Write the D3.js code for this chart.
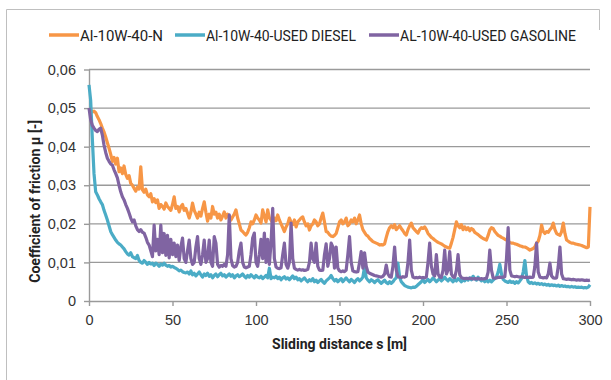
<!DOCTYPE html>
<html>
<head>
<meta charset="utf-8">
<script src="https://cdnjs.cloudflare.com/ajax/libs/d3/7.8.5/d3.min.js"></script>
<style>
  html, body { margin: 0; padding: 0; background: #fff; }
  svg { display: block; }
</style>
</head>
<body>
<div id="chart"></div>
<script>
// Sliding distance s [m], one reading per metre
const distance = d3.range(0, 301);

const seriesNames = ["Al-10W-40-N", "Al-10W-40-USED DIESEL", "AL-10W-40-USED GASOLINE"];

const frictionN = [
  0.0500, 0.0495, 0.0490, 0.0492, 0.0488, 0.0478, 0.0470, 0.0460, 0.0448, 0.0438,
  0.0425, 0.0410, 0.0396, 0.0380, 0.0362, 0.0372, 0.0355, 0.0370, 0.0335, 0.0345,
  0.0330, 0.0350, 0.0328, 0.0318, 0.0325, 0.0305, 0.0300, 0.0292, 0.0285, 0.0295,
  0.0290, 0.0348, 0.0288, 0.0282, 0.0290, 0.0275, 0.0270, 0.0278, 0.0257, 0.0265,
  0.0255, 0.0262, 0.0240, 0.0250, 0.0245, 0.0238, 0.0254, 0.0245, 0.0240, 0.0235,
  0.0250, 0.0270, 0.0240, 0.0245, 0.0231, 0.0245, 0.0250, 0.0235, 0.0240, 0.0228,
  0.0215, 0.0230, 0.0254, 0.0235, 0.0225, 0.0215, 0.0230, 0.0220, 0.0240, 0.0257,
  0.0230, 0.0207, 0.0225, 0.0215, 0.0245, 0.0225, 0.0230, 0.0215, 0.0225, 0.0210,
  0.0220, 0.0231, 0.0215, 0.0225, 0.0220, 0.0210, 0.0218, 0.0225, 0.0236, 0.0215,
  0.0200, 0.0184, 0.0180, 0.0175, 0.0171, 0.0178, 0.0190, 0.0205, 0.0200, 0.0210,
  0.0223, 0.0215, 0.0210, 0.0202, 0.0236, 0.0220, 0.0205, 0.0236, 0.0215, 0.0210,
  0.0202, 0.0215, 0.0208, 0.0223, 0.0210, 0.0200, 0.0190, 0.0180, 0.0192, 0.0200,
  0.0215, 0.0205, 0.0198, 0.0210, 0.0192, 0.0205, 0.0210, 0.0215, 0.0218, 0.0205,
  0.0195, 0.0200, 0.0184, 0.0195, 0.0200, 0.0210, 0.0205, 0.0195, 0.0200, 0.0215,
  0.0228, 0.0205, 0.0180, 0.0178, 0.0172, 0.0168, 0.0167, 0.0170, 0.0175, 0.0190,
  0.0205, 0.0210, 0.0200, 0.0205, 0.0215, 0.0195, 0.0200, 0.0210, 0.0205, 0.0215,
  0.0200, 0.0210, 0.0223, 0.0200, 0.0185, 0.0178, 0.0171, 0.0168, 0.0162, 0.0158,
  0.0154, 0.0152, 0.0150, 0.0148, 0.0145, 0.0146, 0.0145, 0.0148, 0.0165, 0.0180,
  0.0190, 0.0195, 0.0190, 0.0198, 0.0185, 0.0190, 0.0195, 0.0188, 0.0182, 0.0175,
  0.0171, 0.0185, 0.0195, 0.0202, 0.0190, 0.0185, 0.0180, 0.0176, 0.0185, 0.0190,
  0.0188, 0.0192, 0.0185, 0.0175, 0.0170, 0.0165, 0.0162, 0.0158, 0.0155, 0.0152,
  0.0150, 0.0148, 0.0145, 0.0142, 0.0140, 0.0138, 0.0137, 0.0150, 0.0165, 0.0185,
  0.0205, 0.0195, 0.0190, 0.0198, 0.0185, 0.0192, 0.0185, 0.0190, 0.0182, 0.0188,
  0.0185, 0.0178, 0.0175, 0.0172, 0.0168, 0.0165, 0.0162, 0.0160, 0.0158, 0.0170,
  0.0184, 0.0190, 0.0188, 0.0180, 0.0175, 0.0170, 0.0168, 0.0165, 0.0163, 0.0160,
  0.0158, 0.0155, 0.0152, 0.0150, 0.0150, 0.0148, 0.0147, 0.0145, 0.0143, 0.0142,
  0.0140, 0.0140, 0.0138, 0.0135, 0.0132, 0.0134, 0.0136, 0.0140, 0.0150, 0.0155,
  0.0170, 0.0197, 0.0180, 0.0175, 0.0180, 0.0178, 0.0185, 0.0190, 0.0202, 0.0185,
  0.0175, 0.0172, 0.0170, 0.0180, 0.0202, 0.0175, 0.0158, 0.0155, 0.0152, 0.0150,
  0.0150, 0.0148, 0.0147, 0.0146, 0.0145, 0.0144, 0.0142, 0.0140, 0.0138, 0.0140,
  0.0244
];

const frictionDiesel = [
  0.0560, 0.0520, 0.0420, 0.0330, 0.0283, 0.0275, 0.0265, 0.0257, 0.0250, 0.0235,
  0.0223, 0.0210, 0.0195, 0.0180, 0.0172, 0.0165, 0.0158, 0.0152, 0.0148, 0.0145,
  0.0140, 0.0135, 0.0128, 0.0122, 0.0119, 0.0125, 0.0115, 0.0112, 0.0110, 0.0118,
  0.0105, 0.0100, 0.0098, 0.0105, 0.0100, 0.0095, 0.0100, 0.0096, 0.0098, 0.0092,
  0.0098, 0.0095, 0.0090, 0.0096, 0.0093, 0.0098, 0.0093, 0.0090, 0.0092, 0.0088,
  0.0090, 0.0087, 0.0085, 0.0082, 0.0078, 0.0080, 0.0076, 0.0074, 0.0073, 0.0075,
  0.0070, 0.0078, 0.0068, 0.0072, 0.0065, 0.0070, 0.0075, 0.0068, 0.0062, 0.0070,
  0.0066, 0.0072, 0.0064, 0.0068, 0.0060, 0.0066, 0.0070, 0.0063, 0.0068, 0.0072,
  0.0065, 0.0068, 0.0062, 0.0066, 0.0070, 0.0064, 0.0068, 0.0060, 0.0065, 0.0068,
  0.0063, 0.0066, 0.0070, 0.0064, 0.0060, 0.0066, 0.0062, 0.0068, 0.0064, 0.0060,
  0.0066, 0.0062, 0.0060, 0.0064, 0.0058, 0.0062, 0.0066, 0.0060, 0.0085, 0.0058,
  0.0062, 0.0060, 0.0064, 0.0058, 0.0062, 0.0055, 0.0060, 0.0063, 0.0057, 0.0060,
  0.0055, 0.0060, 0.0065, 0.0058, 0.0062, 0.0055, 0.0058, 0.0052, 0.0056, 0.0060,
  0.0054, 0.0050, 0.0055, 0.0052, 0.0058, 0.0050, 0.0054, 0.0048, 0.0052, 0.0056,
  0.0050, 0.0046, 0.0052, 0.0056, 0.0060, 0.0066, 0.0058, 0.0052, 0.0056, 0.0050,
  0.0054, 0.0058, 0.0050, 0.0055, 0.0060, 0.0054, 0.0050, 0.0056, 0.0052, 0.0048,
  0.0054, 0.0058, 0.0052, 0.0056, 0.0062, 0.0088, 0.0060, 0.0054, 0.0050, 0.0055,
  0.0052, 0.0048, 0.0052, 0.0055, 0.0050, 0.0046, 0.0050, 0.0054, 0.0048, 0.0045,
  0.0050, 0.0046, 0.0050, 0.0056, 0.0060, 0.0098, 0.0062, 0.0050, 0.0045, 0.0040,
  0.0038, 0.0036, 0.0035, 0.0034, 0.0036, 0.0035, 0.0038, 0.0042, 0.0046, 0.0050,
  0.0055, 0.0048, 0.0052, 0.0056, 0.0050, 0.0054, 0.0060, 0.0055, 0.0050, 0.0054,
  0.0058, 0.0052, 0.0056, 0.0062, 0.0056, 0.0052, 0.0058, 0.0054, 0.0050, 0.0056,
  0.0052, 0.0058, 0.0054, 0.0050, 0.0055, 0.0052, 0.0058, 0.0054, 0.0060, 0.0055,
  0.0064, 0.0058, 0.0054, 0.0062, 0.0056, 0.0052, 0.0056, 0.0050, 0.0054, 0.0050,
  0.0054, 0.0050, 0.0054, 0.0058, 0.0062, 0.0075, 0.0095, 0.0070, 0.0056, 0.0052,
  0.0050, 0.0048, 0.0052, 0.0048, 0.0050, 0.0046, 0.0050, 0.0047, 0.0052, 0.0058,
  0.0075, 0.0105, 0.0065, 0.0050, 0.0046, 0.0048, 0.0045, 0.0047, 0.0044, 0.0046,
  0.0043, 0.0045, 0.0042, 0.0044, 0.0041, 0.0043, 0.0040, 0.0042, 0.0040, 0.0041,
  0.0039, 0.0041, 0.0038, 0.0040, 0.0038, 0.0039, 0.0037, 0.0038, 0.0036, 0.0038,
  0.0036, 0.0037, 0.0035, 0.0036, 0.0035, 0.0036, 0.0034, 0.0035, 0.0034, 0.0036,
  0.0042
];

const frictionGasoline = [
  0.0500, 0.0470, 0.0455, 0.0448, 0.0442, 0.0439, 0.0445, 0.0448, 0.0430, 0.0404,
  0.0385, 0.0370, 0.0362, 0.0355, 0.0352, 0.0340, 0.0330, 0.0319, 0.0300, 0.0283,
  0.0270, 0.0262, 0.0250, 0.0240, 0.0228, 0.0215, 0.0205, 0.0210, 0.0195, 0.0185,
  0.0180, 0.0185, 0.0178, 0.0176, 0.0165, 0.0152, 0.0145, 0.0130, 0.0115, 0.0197,
  0.0130, 0.0160, 0.0120, 0.0197, 0.0125, 0.0175, 0.0118, 0.0170, 0.0112, 0.0160,
  0.0120, 0.0150, 0.0115, 0.0145, 0.0105, 0.0140, 0.0163, 0.0110, 0.0100, 0.0130,
  0.0158, 0.0110, 0.0095, 0.0100, 0.0140, 0.0167, 0.0110, 0.0095, 0.0120, 0.0158,
  0.0100, 0.0110, 0.0158, 0.0100, 0.0090, 0.0167, 0.0150, 0.0095, 0.0088, 0.0092,
  0.0090, 0.0095, 0.0090, 0.0120, 0.0223, 0.0110, 0.0092, 0.0088, 0.0090, 0.0100,
  0.0130, 0.0150, 0.0100, 0.0088, 0.0086, 0.0088, 0.0090, 0.0120, 0.0163, 0.0176,
  0.0100, 0.0090, 0.0120, 0.0160, 0.0110, 0.0176, 0.0100, 0.0160, 0.0095, 0.0150,
  0.0240, 0.0110, 0.0088, 0.0085, 0.0084, 0.0086, 0.0120, 0.0150, 0.0095, 0.0085,
  0.0100, 0.0202, 0.0110, 0.0085, 0.0082, 0.0080, 0.0082, 0.0080, 0.0081, 0.0079,
  0.0080, 0.0082, 0.0100, 0.0150, 0.0110, 0.0100, 0.0150, 0.0090, 0.0080, 0.0079,
  0.0080, 0.0120, 0.0148, 0.0090, 0.0110, 0.0150, 0.0140, 0.0085, 0.0140, 0.0085,
  0.0078, 0.0076, 0.0078, 0.0076, 0.0080, 0.0120, 0.0167, 0.0100, 0.0078, 0.0076,
  0.0075, 0.0076, 0.0100, 0.0128, 0.0085, 0.0125, 0.0090, 0.0075, 0.0072, 0.0070,
  0.0068, 0.0066, 0.0065, 0.0064, 0.0063, 0.0062, 0.0064, 0.0070, 0.0093, 0.0070,
  0.0063, 0.0062, 0.0090, 0.0140, 0.0080, 0.0063, 0.0062, 0.0061, 0.0063, 0.0062,
  0.0064, 0.0100, 0.0158, 0.0080, 0.0062, 0.0060, 0.0061, 0.0060, 0.0062, 0.0060,
  0.0061, 0.0060, 0.0062, 0.0100, 0.0150, 0.0090, 0.0070, 0.0065, 0.0120, 0.0070,
  0.0062, 0.0061, 0.0080, 0.0132, 0.0070, 0.0080, 0.0128, 0.0070, 0.0062, 0.0061,
  0.0080, 0.0120, 0.0068, 0.0060, 0.0059, 0.0058, 0.0059, 0.0058, 0.0059, 0.0058,
  0.0057, 0.0058, 0.0057, 0.0058, 0.0057, 0.0058, 0.0057, 0.0058, 0.0059, 0.0075,
  0.0132, 0.0080, 0.0060, 0.0059, 0.0060, 0.0061, 0.0062, 0.0061, 0.0062, 0.0063,
  0.0110, 0.0190, 0.0080, 0.0065, 0.0064, 0.0063, 0.0064, 0.0063, 0.0062, 0.0063,
  0.0062, 0.0061, 0.0062, 0.0061, 0.0062, 0.0061, 0.0062, 0.0090, 0.0150, 0.0075,
  0.0062, 0.0061, 0.0060, 0.0061, 0.0060, 0.0070, 0.0098, 0.0065, 0.0060, 0.0059,
  0.0060, 0.0090, 0.0140, 0.0070, 0.0058, 0.0057, 0.0056, 0.0057, 0.0056, 0.0055,
  0.0056, 0.0055, 0.0054, 0.0055, 0.0054, 0.0055, 0.0054, 0.0053, 0.0054, 0.0053,
  0.0054
];

const xTicks = [0, 50, 100, 150, 200, 250, 300];
const yTicks = [0, 0.01, 0.02, 0.03, 0.04, 0.05, 0.06];
const yTickLabels = ["0", "0,01", "0,02", "0,03", "0,04", "0,05", "0,06"];

const colors = ["#f79646", "#4bacc6", "#8064a2"];
const allSeries = [frictionN, frictionDiesel, frictionGasoline];

const width = 611, height = 380;
const margin = { left: 89, right: 21, top: 69.5, bottom: 79 };
const labelFont = "Roboto, 'Noto Sans', sans-serif";
const wide = "'Liberation Sans', Arial, sans-serif";

const svg = d3.select("#chart").append("svg")
    .attr("width", width)
    .attr("height", height);

// chart frame (left and top edges visible in the source)
svg.append("path")
    .attr("d", "M6.5,380 V9.5 H599.5 V30")
    .attr("fill", "none")
    .attr("stroke", "#bfbfbf")
    .attr("stroke-width", 1);

const x = d3.scaleLinear().domain([0, 300]).range([margin.left, width - margin.right]);
const y = d3.scaleLinear().domain([0, 0.06]).range([height - margin.bottom, margin.top]);

// horizontal grid lines
svg.append("g")
    .selectAll("line")
    .data(yTicks.slice(1))
    .join("line")
    .attr("x1", x(0))
    .attr("x2", x(300))
    .attr("y1", d => y(d))
    .attr("y2", d => y(d))
    .attr("stroke", "#9a9a9a")
    .attr("stroke-width", 1.4);

// Y axis
const yAxis = d3.axisLeft(y)
    .tickValues(yTicks)
    .tickFormat((d, i) => yTickLabels[i])
    .tickSize(5)
    .tickPadding(8)
    .tickSizeOuter(0);

const gy = svg.append("g")
    .attr("transform", `translate(${x(0)},0)`)
    .call(yAxis);
gy.select(".domain").attr("stroke", "#9a9a9a").attr("stroke-width", 1.4);
gy.selectAll(".tick line").attr("stroke", "#9a9a9a").attr("stroke-width", 1.4);
gy.selectAll(".tick text")
    .attr("fill", "#333")
    .style("font-family", wide)
    .style("font-size", "14.5px");

// X axis
const xAxis = d3.axisBottom(x)
    .tickValues(xTicks)
    .tickSize(5)
    .tickPadding(9)
    .tickSizeOuter(0);

const gx = svg.append("g")
    .attr("transform", `translate(0,${y(0)})`)
    .call(xAxis);
gx.select(".domain").attr("stroke", "#9a9a9a").attr("stroke-width", 1.4);
gx.selectAll(".tick line").attr("stroke", "#9a9a9a").attr("stroke-width", 1.4);
gx.selectAll(".tick text")
    .attr("fill", "#333")
    .style("font-family", wide)
    .style("font-size", "14.5px");

// series lines
const line = d3.line()
    .x((d, i) => x(distance[i]))
    .y(d => y(d));

svg.append("g")
    .selectAll("path")
    .data(allSeries)
    .join("path")
    .attr("d", line)
    .attr("fill", "none")
    .attr("stroke", (d, i) => colors[i])
    .attr("stroke-width", 3.2)
    .attr("stroke-linejoin", "round");

// axis titles (squeezed to the narrow face of the source)
svg.append("text")
    .attr("x", x(150))
    .attr("y", 349)
    .attr("text-anchor", "middle")
    .attr("fill", "#222")
    .attr("textLength", 135)
    .attr("lengthAdjust", "spacingAndGlyphs")
    .style("font-family", labelFont)
    .style("font-weight", "bold")
    .style("font-size", "15px")
    .text("Sliding distance s [m]");

svg.append("text")
    .attr("transform", `translate(40,${(y(0) + y(0.06)) / 2 + 16}) rotate(-90)`)
    .attr("text-anchor", "middle")
    .attr("fill", "#222")
    .attr("textLength", 163)
    .attr("lengthAdjust", "spacingAndGlyphs")
    .style("font-family", labelFont)
    .style("font-weight", "bold")
    .style("font-size", "15px")
    .text("Coefficient of friction \u03bc [-]");

// legend
const legendX = [49, 175, 369];
const legendTextLen = [83, 150, 176];
const legend = svg.append("g")
    .selectAll("g")
    .data(seriesNames)
    .join("g")
    .attr("transform", (d, i) => `translate(${legendX[i]},35)`);

legend.append("line")
    .attr("x1", 0)
    .attr("x2", 30)
    .attr("stroke", (d, i) => colors[i])
    .attr("stroke-width", 3.5);

legend.append("text")
    .attr("x", 31)
    .attr("y", 5.5)
    .attr("fill", "#222")
    .attr("textLength", (d, i) => legendTextLen[i])
    .attr("lengthAdjust", "spacingAndGlyphs")
    .style("font-family", labelFont)
    .style("font-size", "15px")
    .text(d => d);
</script>
</body>
</html>
